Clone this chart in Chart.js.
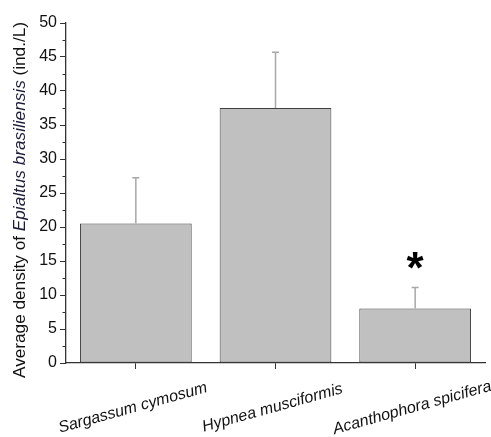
<!DOCTYPE html>
<html>
<head>
<meta charset="utf-8">
<script src="https://cdn.jsdelivr.net/npm/chart.js@4.4.0/dist/chart.umd.min.js"></script>
<style>
  html, body { margin: 0; padding: 0; background: #ffffff; }
  #wrap { width: 491px; height: 437px; position: relative; }
</style>
</head>
<body>
<div id="wrap"><canvas id="c" width="491" height="437"></canvas></div>
<script>
const categories = ['Sargassum cymosum', 'Hypnea musciformis', 'Acanthophora spicifera'];
const means = [20.5, 37.5, 8.0];
const errors = [6.75, 8.2, 3.1];
const significant = [false, false, true];
const yTicks = [0, 5, 10, 15, 20, 25, 30, 35, 40, 45, 50];
const yMinorTicks = [2.5, 7.5, 12.5, 17.5, 22.5, 27.5, 32.5, 37.5, 42.5, 47.5];
const yTitleParts = [
  { text: 'Average density of ', italic: false },
  { text: 'Epialtus brasiliensis', italic: true },
  { text: ' (ind./L)', italic: false }
];

const FONT = 'Liberation Sans, Arial, sans-serif';
const AXIS_COLOR = '#333333';

const extras = {
  id: 'extras',
  afterDatasetsDraw(chart) {
    const ctx = chart.ctx;
    const y = chart.scales.y;
    const meta = chart.getDatasetMeta(0);
    ctx.save();
    ctx.strokeStyle = '#a8a8a8';
    ctx.lineWidth = 1.5;
    meta.data.forEach((bar, i) => {
      const top = y.getPixelForValue(means[i] + errors[i]);
      const base = y.getPixelForValue(means[i]);
      ctx.beginPath();
      ctx.moveTo(bar.x, base);
      ctx.lineTo(bar.x, top);
      ctx.moveTo(bar.x - 3.5, top);
      ctx.lineTo(bar.x + 3.5, top);
      ctx.stroke();
      if (significant[i]) {
        ctx.save();
        ctx.fillStyle = '#000';
        ctx.font = 'bold 44px ' + FONT;
        ctx.textAlign = 'center';
        ctx.textBaseline = 'alphabetic';
        const m = ctx.measureText('*');
        const cy = top - 27;
        const off = (m.actualBoundingBoxAscent - m.actualBoundingBoxDescent) / 2;
        ctx.fillText('*', bar.x, cy + off);
        ctx.restore();
      }
    });
    ctx.restore();
  },
  afterDraw(chart) {
    const ctx = chart.ctx;
    const x = chart.scales.x, y = chart.scales.y;
    const area = chart.chartArea;
    ctx.save();
    ctx.strokeStyle = AXIS_COLOR;
    ctx.lineWidth = 1;
    yMinorTicks.forEach(v => {
      const py = Math.round(y.getPixelForValue(v)) + 0.5;
      ctx.beginPath();
      ctx.moveTo(area.left - 3.5, py);
      ctx.lineTo(area.left, py);
      ctx.stroke();
    });
    ctx.restore();
    ctx.save();
    ctx.fillStyle = '#111';
    ctx.font = 'italic 16px ' + FONT;
    ctx.textAlign = 'center';
    ctx.textBaseline = 'middle';
    categories.forEach((c, i) => {
      const px = x.getPixelForValue(i);
      ctx.save();
      ctx.translate(px - 3, area.bottom + 45);
      ctx.rotate(-15.5 * Math.PI / 180);
      ctx.fillText(c, 0, 0);
      ctx.restore();
    });
    ctx.restore();
    ctx.save();
    ctx.textBaseline = 'middle';
    ctx.textAlign = 'left';
    const fs = 17.2;
    let total = 0;
    const widths = yTitleParts.map(p => {
      ctx.font = (p.italic ? 'italic ' : '') + fs + 'px ' + FONT;
      const w = ctx.measureText(p.text).width;
      total += w;
      return w;
    });
    ctx.translate(20, 200);
    ctx.rotate(-Math.PI / 2);
    let pos = -total / 2;
    yTitleParts.forEach((p, i) => {
      ctx.font = (p.italic ? 'italic ' : '') + fs + 'px ' + FONT;
      ctx.fillStyle = p.italic ? '#1a1a3a' : '#111';
      ctx.fillText(p.text, pos, 0);
      pos += widths[i];
    });
    ctx.restore();
  }
};

new Chart(document.getElementById('c'), {
  type: 'bar',
  data: {
    labels: categories,
    datasets: [{
      data: means,
      backgroundColor: '#c0c0c0',
      borderColor: '#404040',
      borderWidth: 1,
      borderSkipped: false,
      categoryPercentage: 1.0,
      barPercentage: 0.8
    }]
  },
  options: {
    responsive: false,
    animation: false,
    devicePixelRatio: 1,
    layout: { padding: { left: 0, right: 6, top: 23, bottom: 0 } },
    plugins: { legend: { display: false }, tooltip: { enabled: false } },
    scales: {
      x: {
        offset: true,
        grid: { display: true, drawOnChartArea: false, offset: false, tickLength: 6, tickColor: AXIS_COLOR, tickWidth: 1 },
        border: { display: true, color: AXIS_COLOR, width: 1.3 },
        ticks: { display: false },
        afterFit(scale) { scale.height = 437 - 363; }
      },
      y: {
        min: 0, max: 50,
        afterBuildTicks(scale) { scale.ticks = yTicks.map(v => ({ value: v })); },
        grid: { display: true, drawOnChartArea: false, tickLength: 6, tickColor: AXIS_COLOR, tickWidth: 1 },
        border: { display: true, color: AXIS_COLOR, width: 1.3 },
        ticks: { color: '#111', font: { family: FONT, size: 16 }, padding: 3 },
        afterFit(scale) { scale.width = 66; }
      }
    }
  },
  plugins: [extras]
});
</script>
</body>
</html>
